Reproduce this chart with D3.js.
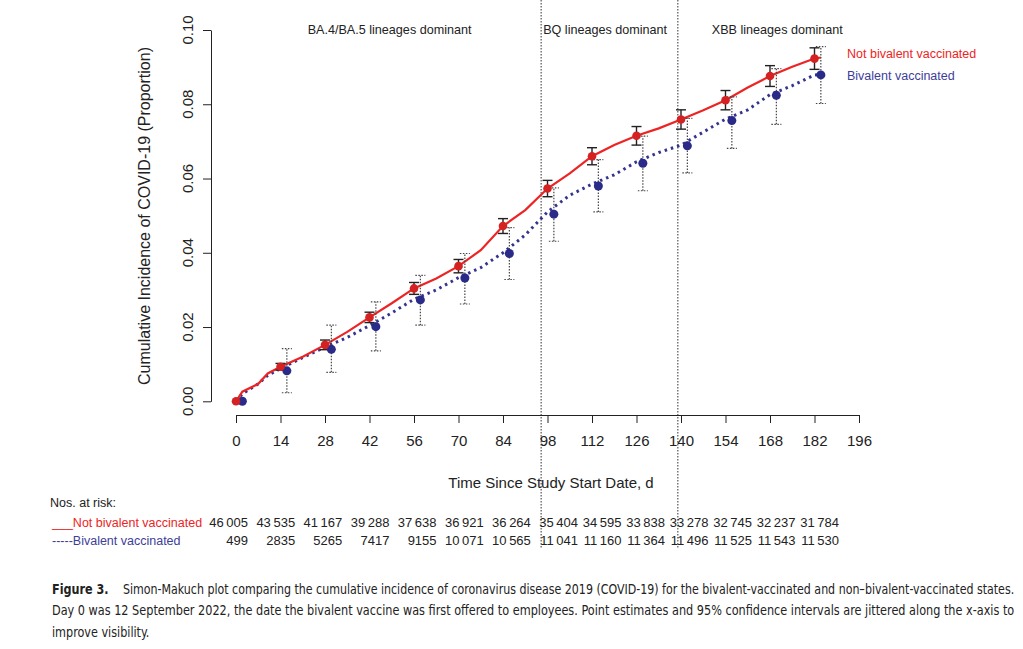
<!DOCTYPE html>
<html>
<head>
<meta charset="utf-8">
<script src="https://cdn.jsdelivr.net/npm/d3@7"></script>
<style>
  body { margin: 0; background: #fff; }
  svg { display: block; }
  text { font-family: "Liberation Sans", Arial, Helvetica, sans-serif; }
  text.caption { font-family: "Liberation Sans Narrow", "DejaVu Sans Condensed", "Roboto Condensed", sans-serif; }
</style>
</head>
<body>
<svg id="chart" width="1023" height="649"></svg>
<script>
// point estimates every 14 days (blue ones are jittered right when drawn)
const days = [0, 14, 28, 42, 56, 70, 84, 98, 112, 126, 140, 154, 168, 182];
const notBivEst = [0, 0.0093, 0.0152, 0.0226, 0.0304, 0.0364, 0.0472, 0.0573, 0.0660, 0.0715, 0.0759, 0.0811, 0.0876, 0.0923];
const notBivLo  = [0, 0.0084, 0.0139, 0.0212, 0.0288, 0.0346, 0.0452, 0.0551, 0.0637, 0.0690, 0.0733, 0.0785, 0.0848, 0.0894];
const notBivHi  = [0, 0.0102, 0.0165, 0.0240, 0.0320, 0.0382, 0.0492, 0.0595, 0.0683, 0.0740, 0.0785, 0.0837, 0.0904, 0.0952];
const bivEst = [0, 0.0082, 0.0140, 0.0201, 0.0273, 0.0332, 0.0398, 0.0504, 0.0580, 0.0641, 0.0688, 0.0756, 0.0824, 0.0879];
const bivLo  = [0, 0.0023, 0.0078, 0.0136, 0.0205, 0.0262, 0.0328, 0.0431, 0.0510, 0.0567, 0.0615, 0.0681, 0.0746, 0.0802];
const bivHi  = [0, 0.0142, 0.0205, 0.0268, 0.0339, 0.0398, 0.0468, 0.0575, 0.0651, 0.0714, 0.0762, 0.0820, 0.0896, 0.0955];

// cumulative incidence curves
const curveDays   = [0, 2, 7, 10, 14, 21, 28, 35, 42, 49, 56, 63, 70, 77, 84, 91, 98, 105, 112, 119, 126, 133, 140, 147, 154, 161, 168, 175, 182, 184];
const notBivCurve = [0, 0.0026, 0.0047, 0.0075, 0.0093, 0.0120, 0.0152, 0.0187, 0.0226, 0.0264, 0.0304, 0.0331, 0.0364, 0.0407, 0.0472, 0.0515, 0.0573, 0.0614, 0.0660, 0.0690, 0.0715, 0.0735, 0.0759, 0.0784, 0.0811, 0.0845, 0.0876, 0.0901, 0.0923, 0.0926];
const bivCurve    = [0, 0.0020, 0.0047, 0.0070, 0.0088, 0.0118, 0.0146, 0.0172, 0.0204, 0.0238, 0.0275, 0.0300, 0.0333, 0.0360, 0.0400, 0.0448, 0.0510, 0.0555, 0.0585, 0.0610, 0.0645, 0.0670, 0.0690, 0.0725, 0.0760, 0.0785, 0.0826, 0.0850, 0.0879, 0.0880];

const riskNotBiv = [46005, 43535, 41167, 39288, 37638, 36921, 36264, 35404, 34595, 33838, 33278, 32745, 32237, 31784];
const riskBiv    = [499, 2835, 5265, 7417, 9155, 10071, 10565, 11041, 11160, 11364, 11496, 11525, 11543, 11530];

const xTicks = [0, 14, 28, 42, 56, 70, 84, 98, 112, 126, 140, 154, 168, 182, 196];
const yTicks = [0, 0.02, 0.04, 0.06, 0.08, 0.10];
const eraBounds = [96, 139];
const eraLabels = ['BA.4/BA.5 lineages dominant', 'BQ lineages dominant', 'XBB lineages dominant'];
const seriesNames = ['Not bivalent vaccinated', 'Bivalent vaccinated'];

const RED = '#ec2424', BLUE = '#34348f', LEGEND_BLUE = '#3d3d9a', INK = '#222';
const jitter = 2; // days, for the bivalent points

const svg = d3.select('#chart').attr('fill', INK);
svg.append('rect').attr('width', 1023).attr('height', 649).attr('fill', '#fff');

const x = d3.scaleLinear().domain([0, 196]).range([236, 859]);
const y = d3.scaleLinear().domain([0, 0.1]).range([401.3, 30]);

// era separators
svg.selectAll('line.era').data(eraBounds).join('line')
  .attr('x1', d => x(d)).attr('x2', d => x(d))
  .attr('y1', 0).attr('y2', 548)
  .attr('stroke', '#555').attr('stroke-width', 1.2).attr('stroke-dasharray', '1.5,1.5');

const eraText = svg.append('g').attr('font-size', 12.6);
eraText.append('text').attr('x', x((0 + eraBounds[0]) / 2) + 1).attr('y', 34)
  .attr('text-anchor', 'middle').text(eraLabels[0]);
eraText.append('text').attr('x', x(eraBounds[0]) + 2).attr('y', 34).text(eraLabels[1]);
eraText.append('text').attr('x', x(eraBounds[1]) + 34).attr('y', 34).text(eraLabels[2]);

// axes
const xAxis = svg.append('g').attr('transform', 'translate(0,415)')
  .call(d3.axisBottom(x).tickValues(xTicks).tickSize(8).tickSizeOuter(0).tickPadding(12));
xAxis.selectAll('text').attr('font-size', 15).attr('font-family', null).attr('fill', INK);
xAxis.selectAll('path,line').attr('stroke', INK);

const yAxis = svg.append('g').attr('transform', 'translate(211,0)')
  .call(d3.axisLeft(y).tickValues(yTicks).tickSize(8).tickSizeOuter(0).tickFormat(''));
yAxis.selectAll('path,line').attr('stroke', INK);
svg.append('g').selectAll('text').data(yTicks).join('text')
  .attr('transform', d => `translate(193,${y(d)}) rotate(-90)`)
  .attr('text-anchor', 'middle').attr('font-size', 15)
  .text(d3.format('.2f'));

svg.append('text').attr('transform', 'translate(150,216) rotate(-90)')
  .attr('text-anchor', 'middle').attr('font-size', 16)
  .text('Cumulative Incidence of COVID-19 (Proportion)');
svg.append('text').attr('x', 551).attr('y', 488).attr('text-anchor', 'middle')
  .attr('font-size', 15).text('Time Since Study Start Date, d');

// curves
const line = d3.line().x((d, i) => x(curveDays[i])).y(d => y(d));
svg.append('path').datum(bivCurve).attr('d', line)
  .attr('fill', 'none').attr('stroke', BLUE).attr('stroke-width', 3)
  .attr('stroke-dasharray', '2.5,4');
svg.append('path').datum(notBivCurve).attr('d', line)
  .attr('fill', 'none').attr('stroke', RED).attr('stroke-width', 2.2);

// confidence intervals
function errorBars(lo, hi, off, style) {
  const g = svg.append('g').attr('stroke', style.color).attr('stroke-width', style.width)
    .attr('stroke-dasharray', style.dash);
  days.forEach((d, i) => {
    if (hi[i] - lo[i] <= 0) return;
    const cx = x(d + off);
    g.append('line').attr('x1', cx).attr('x2', cx).attr('y1', y(lo[i])).attr('y2', y(hi[i]));
    [lo[i], hi[i]].forEach(v => {
      g.append('line').attr('x1', cx - 5).attr('x2', cx + 5).attr('y1', y(v)).attr('y2', y(v));
    });
  });
}
errorBars(bivLo, bivHi, jitter, { color: '#444', width: 1.2, dash: '1.5,1.5' });
errorBars(notBivLo, notBivHi, 0, { color: INK, width: 1.4, dash: null });

svg.append('g').selectAll('circle').data(bivEst).join('circle')
  .attr('cx', (d, i) => x(days[i] + jitter)).attr('cy', d => y(d)).attr('r', 4.5).attr('fill', '#2a2a88');
svg.append('g').selectAll('circle').data(notBivEst).join('circle')
  .attr('cx', (d, i) => x(days[i])).attr('cy', d => y(d)).attr('r', 4.3).attr('fill', '#d42222');

// legend
svg.append('text').attr('x', 847).attr('y', 58).attr('font-size', 12.5).attr('fill', RED).text(seriesNames[0]);
svg.append('text').attr('x', 847).attr('y', 80).attr('font-size', 12.5).attr('fill', LEGEND_BLUE).text(seriesNames[1]);

// numbers at risk
const riskX = d3.scaleLinear().domain([0, 98, 182]).range([248, 578, 839]);
const fmt = n => n >= 10000 ? d3.format(',')(n).replace(',', '\u2009') : String(n);
const risk = svg.append('g').attr('font-size', 12.5);
risk.append('text').attr('x', 50).attr('y', 507).text('Nos. at risk:');
risk.append('text').attr('x', 52).attr('y', 527).attr('fill', RED).text('___' + seriesNames[0]);
risk.append('text').attr('x', 52).attr('y', 545).attr('fill', LEGEND_BLUE).text('-----' + seriesNames[1]);
[[riskNotBiv, 527], [riskBiv, 545]].forEach(([vals, yy]) => {
  risk.append('g').selectAll('text').data(vals).join('text')
    .attr('x', (d, i) => riskX(days[i])).attr('y', yy).attr('text-anchor', 'end')
    .attr('font-size', 13)
    .text(fmt);
});

// caption: condensed lines squeezed to the reference widths with a horizontal scale
const cap = svg.append('g').attr('font-size', 14.5);
function capLine(txt, x0, y0, width, bold) {
  const t = cap.append('text').attr('class', 'caption').text(txt);
  if (bold) t.attr('font-weight', 'bold');
  const natural = t.node().getComputedTextLength();
  const sx = width ? Math.min(1, width / natural) : 0.86;
  t.attr('transform', `translate(${x0},${y0}) scale(${sx},1)`);
}
capLine('Figure 3.', 52, 594, 0, true);
capLine('Simon-Makuch plot comparing the cumulative incidence of coronavirus disease 2019 (COVID-19) for the bivalent-vaccinated and non\u2013bivalent-vaccinated states.', 123, 594, 892);
capLine('Day 0 was 12 September 2022, the date the bivalent vaccine was first offered to employees. Point estimates and 95% confidence intervals are jittered along the x-axis to', 52, 615, 963);
capLine('improve visibility.', 52, 637, 0);
</script>
</body>
</html>
